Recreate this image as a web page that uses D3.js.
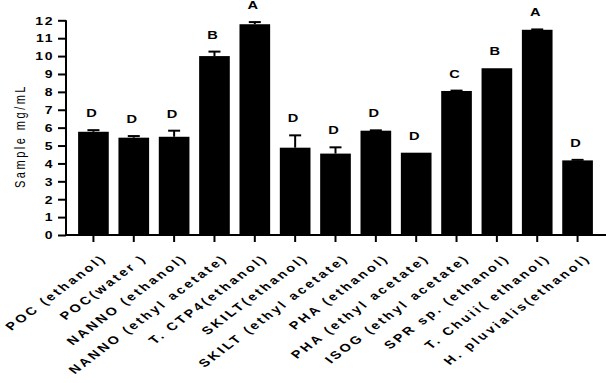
<!DOCTYPE html>
<html><head><meta charset="utf-8">
<script src="https://cdn.jsdelivr.net/npm/d3@7"></script>
<style>body{margin:0;background:#fff}svg{display:block}</style>
</head><body>
<svg id="c" width="606" height="383"></svg>
<script>
const categories = ["POC (ethanol)","POC(water )","NANNO (ethanol)","NANNO (ethyl acetate)","T. CTP4(ethanol)","SKILT(ethanol)","SKILT (ethyl acetate)","PHA (ethanol)","PHA (ethyl acetate)","ISOG (ethyl acetate)","SPR sp. (ethanol)","T. Chuii( ethanol)","H. pluvialis(ethanol)"];
const means = [5.77,5.44,5.49,10.0,11.78,4.88,4.55,5.83,4.6,8.05,9.32,11.47,4.17];
const errors = [0.09,0.09,0.34,0.25,0.12,0.69,0.35,0.02,0.0,0.02,0.0,0.02,0.03];
const letters = ["D","D","D","B","A","D","D","D","D","C","B","A","D"];
const yTicks = [0,1,2,3,4,5,6,7,8,9,10,11,12];

const SX = 1.33;
const FONT = "Liberation Sans, Arial, sans-serif";
const svg = d3.select("#c");
const x = d3.scaleBand().domain(categories).range([66,605]).paddingInner(0.24).paddingOuter(0.3);
const y = d3.scaleLinear().domain([0,12]).range([235,20.3]);

// bars
svg.selectAll("rect.bar").data(categories).enter().append("rect")
  .attr("x", d=>x(d)).attr("width", x.bandwidth())
  .attr("y", (d,i)=>y(means[i])).attr("height",(d,i)=>y(0)-y(means[i]))
  .attr("fill","#000");

// error bars
const eb = svg.append("g").attr("stroke","#000").attr("stroke-width",2);
categories.forEach((c,i)=>{
  if (errors[i] <= 0) return;
  const cx = x(c)+x.bandwidth()/2;
  eb.append("line").attr("x1",cx).attr("x2",cx).attr("y1",y(means[i])).attr("y2",y(means[i]+errors[i]));
  eb.append("line").attr("x1",cx-6).attr("x2",cx+6).attr("y1",y(means[i]+errors[i])).attr("y2",y(means[i]+errors[i]));
});

// letters
svg.selectAll("text.lab").data(categories).enter().append("text")
  .attr("transform",(d,i)=>`translate(${x(d)+x.bandwidth()/2-2},${y(means[i]+errors[i]) - 13}) scale(${SX},1)`)
  .attr("text-anchor","middle")
  .attr("font-family",FONT)
  .attr("font-weight","bold").attr("font-size",11)
  .text((d,i)=>letters[i]);

// y axis
const ya = svg.append("g").attr("transform","translate(66,0)")
  .call(d3.axisLeft(y).tickValues(yTicks).tickSize(8).tickPadding(5).tickFormat(d3.format("d")));
ya.select(".domain").attr("stroke-width",2).attr("d","M0,"+y(12)+"V"+y(0));
ya.selectAll(".tick line").attr("stroke-width",2);
ya.selectAll(".tick text").attr("font-family",FONT)
  .attr("font-weight","bold").attr("font-size",10.5).attr("letter-spacing","1.2px").attr("fill","#000")
  .attr("x",0).attr("dy","0.36em").attr("transform",`translate(-12,0) scale(${SX},1)`);

// x axis
const xa = svg.append("g").attr("transform","translate(0,235)")
  .call(d3.axisBottom(x).tickSize(7).tickSizeOuter(0));
xa.select(".domain").attr("stroke-width",2).attr("d","M65,0H606");
xa.selectAll(".tick line").attr("stroke-width",2);
xa.selectAll(".tick text")
  .attr("font-family",FONT)
  .attr("font-weight","bold").attr("font-size",11).attr("letter-spacing","2.2px").attr("fill","#000")
  .attr("text-anchor","end").attr("dy",0).attr("y",0).attr("x",0)
  .attr("transform",`translate(14,24) scale(${SX},1) rotate(-45)`);

// y title
svg.append("text").attr("transform",`translate(25,136) scale(${SX},1) rotate(-90)`)
  .attr("text-anchor","middle")
  .attr("font-family",FONT)
  .attr("font-size",11).attr("letter-spacing","2.5px").attr("fill","#000")
  .text("Sample mg/mL");
</script>
</body></html>
